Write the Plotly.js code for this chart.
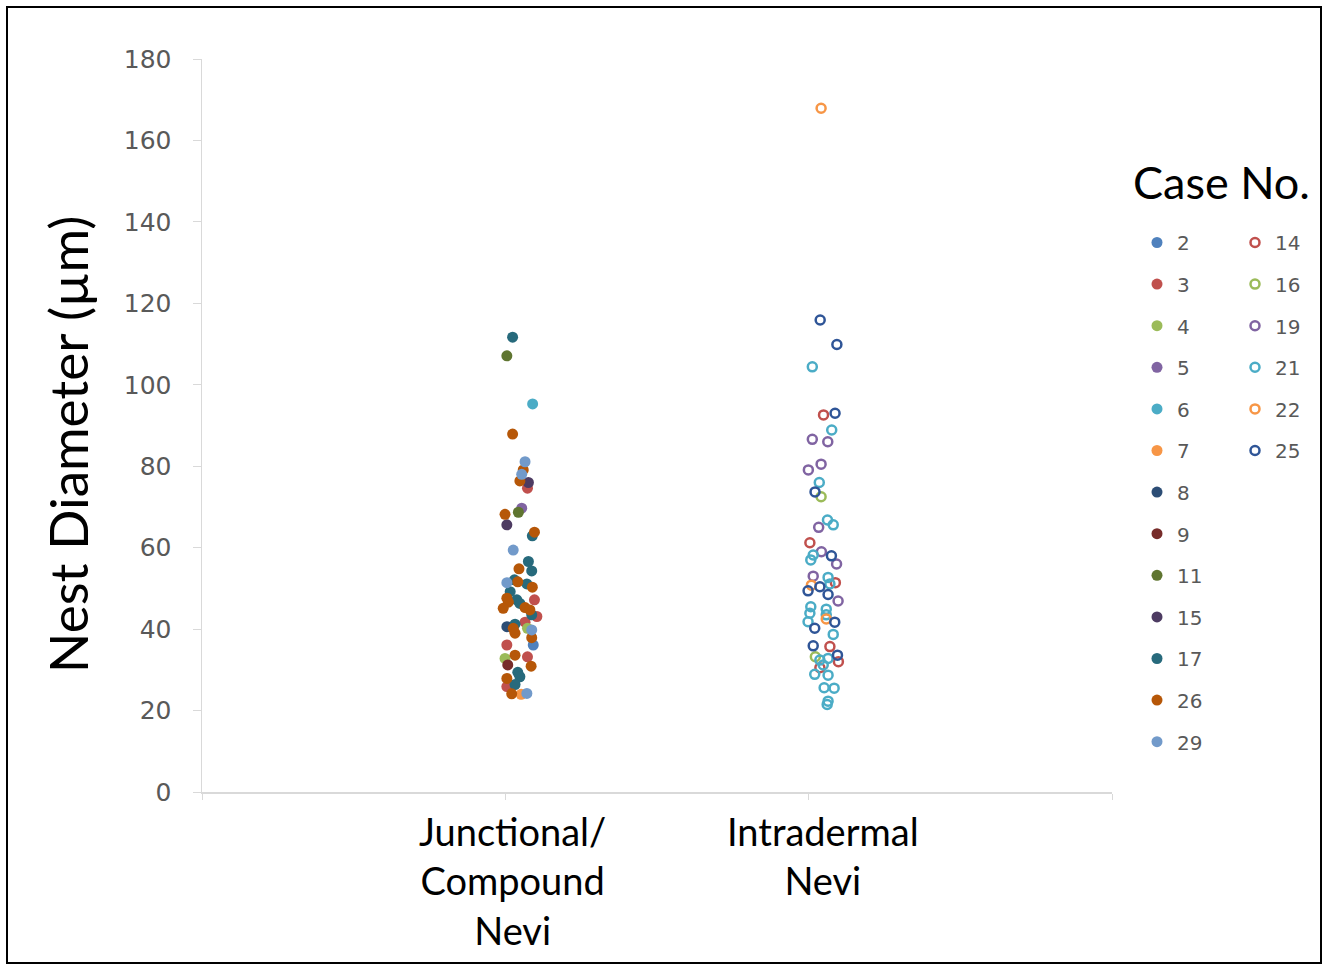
<!DOCTYPE html>
<html>
<head>
<meta charset="utf-8">
<script src="https://cdn.plot.ly/plotly-3.0.1.min.js"></script>
<style>
  html, body { margin: 0; padding: 0; background: #fff; }
  #chart { width: 1326px; height: 966px; }
</style>
</head>
<body>
<div id="chart"></div>
<script>
// ---- Data ----
const categories = ["Junctional/<br>Compound<br>Nevi", "Intradermal<br>Nevi"];
const categoryPositions = [1, 2];
const yTicks = [0, 20, 40, 60, 80, 100, 120, 140, 160, 180];
const yTitle = "Nest Diameter (µm)";
const legendTitle = "Case No.";

// Junctional/Compound Nevi (filled markers): x = category position + jitter, y = nest diameter (µm)
const case2_x  = [1.092];
const case2_y  = [36.1];
const case3_x  = [1.073, 1.096, 1.104, 1.065, 1.005, 1.073, 1.005];
const case3_y  = [74.6, 47.2, 43.1, 41.7, 36.1, 33.2, 25.9];
const case4_x  = [1.073, 0.999];
const case4_y  = [40.2, 32.8];
const case5_x  = [1.054];
const case5_y  = [69.7];
const case6_x  = [1.090];
const case6_y  = [95.3];
const case7_x  = [1.052];
const case7_y  = [24.0];
const case8_x  = [1.005];
const case8_y  = [40.6];
const case9_x  = [1.008];
const case9_y  = [31.2];
const case11_x = [1.005, 1.043];
const case11_y = [107.1, 68.7];
const case15_x = [1.076, 1.005];
const case15_y = [76.0, 65.6];
const case17_x = [1.024, 1.089, 1.076, 1.087, 1.030, 1.071, 1.016, 1.038, 1.048, 1.087, 1.032, 1.041, 1.048, 1.032];
const case17_y = [111.7, 62.9, 56.6, 54.3, 52.1, 51.1, 49.2, 47.2, 46.3, 43.5, 41.2, 29.4, 28.3, 26.4];
const case26_x = [1.024, 1.059, 1.048, 0.999, 1.096, 1.045, 1.041, 1.089, 1.005, 1.010, 0.993, 1.065, 1.081, 1.026, 1.032, 1.087, 1.032, 1.085, 1.005, 1.021];
const case26_y = [87.9, 79.1, 76.4, 68.2, 63.8, 54.8, 51.6, 50.3, 47.6, 46.6, 45.1, 45.3, 44.7, 40.2, 39.0, 37.9, 33.6, 30.9, 27.9, 24.1];
const case29_x = [1.065, 1.054, 1.026, 1.005, 1.087, 1.071];
const case29_y = [81.1, 78.0, 59.4, 51.4, 39.8, 24.2];

// Intradermal Nevi (open markers)
const case14_x = [2.049, 2.004, 2.088, 2.070, 2.098, 2.037];
const case14_y = [92.6, 61.2, 51.4, 35.7, 32.0, 30.5];
const case16_x = [2.041, 2.022];
const case16_y = [72.5, 33.2];
const case19_x = [2.012, 2.063, 2.041, 1.999, 2.033, 2.042, 2.092, 2.015, 2.097];
const case19_y = [86.6, 86.0, 80.5, 79.1, 65.0, 59.0, 56.0, 53.0, 46.9];
const case21_x = [2.012, 2.076, 2.035, 2.062, 2.081, 2.015, 2.007, 2.064, 2.070, 2.007, 2.058, 2.004, 2.058, 1.998, 2.081, 2.037, 2.064, 2.048, 2.020, 2.064, 2.051, 2.084, 2.064, 2.061];
const case21_y = [104.4, 88.9, 76.0, 66.8, 65.6, 58.2, 57.0, 52.7, 51.1, 45.5, 44.9, 43.9, 43.5, 41.8, 38.7, 32.4, 32.8, 31.2, 28.9, 28.7, 25.6, 25.5, 22.3, 21.5];
const case22_x = [2.041, 2.009, 2.058];
const case22_y = [167.9, 50.8, 42.5];
const case25_x = [2.038, 2.093, 2.087, 2.021, 2.075, 2.037, 1.998, 2.064, 2.086, 2.020, 2.015, 2.095];
const case25_y = [115.9, 109.9, 93.0, 73.7, 58.0, 50.4, 49.4, 48.5, 41.7, 40.2, 35.9, 33.6];

// ---- Series definitions (name, x, y, colour) ----
const filledSeries = [
  ["2",  case2_x,  case2_y,  "#4F81BD"],
  ["3",  case3_x,  case3_y,  "#C0504D"],
  ["4",  case4_x,  case4_y,  "#9BBB59"],
  ["5",  case5_x,  case5_y,  "#8064A2"],
  ["6",  case6_x,  case6_y,  "#4BACC6"],
  ["7",  case7_x,  case7_y,  "#F79646"],
  ["8",  case8_x,  case8_y,  "#2C4D75"],
  ["9",  case9_x,  case9_y,  "#772C2A"],
  ["11", case11_x, case11_y, "#5F7530"],
  ["15", case15_x, case15_y, "#4D3B62"],
  ["17", case17_x, case17_y, "#276A7C"],
  ["26", case26_x, case26_y, "#B65708"],
  ["29", case29_x, case29_y, "#729ACA"]
];
const openSeries = [
  ["14", case14_x, case14_y, "#C0504D"],
  ["16", case16_x, case16_y, "#9BBB59"],
  ["19", case19_x, case19_y, "#8064A2"],
  ["21", case21_x, case21_y, "#4BACC6"],
  ["22", case22_x, case22_y, "#F79646"],
  ["25", case25_x, case25_y, "#2F5597"]
];

const traces = [];
filledSeries.forEach(([name, x, y, color]) => {
  traces.push({
    type: "scatter", mode: "markers", name: name, x: x, y: y,
    legend: "legend", legendgroup: "g" + name,
    marker: { symbol: "circle", size: 11, color: color, line: { width: 0 } },
    hoverinfo: "name+y"
  });
});
openSeries.forEach(([name, x, y, color]) => {
  traces.push({
    type: "scatter", mode: "markers", name: name, x: x, y: y,
    legend: "legend2", legendgroup: "g" + name,
    marker: { symbol: "circle-open", size: 9, color: color, line: { width: 2.5, color: color } },
    hoverinfo: "name+y"
  });
});

// plot area in pixels: x 202..1112, y 59..792
const L = 202, R = 214, T = 59, B = 174, W = 1326, H = 966;
const pw = W - L - R, ph = H - T - B;
const px = v => (v - L) / pw;
const py = v => (H - B - v) / ph;

const labelFont = "Lato, 'Open Sans', sans-serif";
const annotations = categories.map((c, i) => ({
  text: c, xref: "x", yref: "paper",
  x: categoryPositions[i] + [0.023, 0.046][i], y: py(806),
  xanchor: "center", yanchor: "top", showarrow: false,
  font: { family: labelFont, size: 38, color: "#000000" }
}));
annotations.push({
  text: legendTitle, xref: "paper", yref: "paper",
  x: px(1131), y: py(182), xanchor: "left", yanchor: "middle", showarrow: false,
  font: { family: labelFont, size: 45, color: "#000000" }
});
annotations.push({
  text: yTitle, xref: "paper", yref: "paper", textangle: -90,
  x: px(68), y: py(445), xanchor: "center", yanchor: "middle", showarrow: false,
  font: { family: labelFont, size: 53, color: "#000000" }
});

const legendCommon = {
  yanchor: "top", xanchor: "left",
  font: { family: "'DejaVu Sans', sans-serif", size: 20, color: "#595959" },
  traceorder: "grouped", tracegroupgap: 12.6, itemwidth: 30,
  bgcolor: "rgba(0,0,0,0)", borderwidth: 0
};

const layout = {
  width: W, height: H,
  margin: { l: L, r: R, t: T, b: B },
  paper_bgcolor: "#ffffff", plot_bgcolor: "#ffffff",
  showlegend: true,
  xaxis: {
    range: [0, 3], tickvals: [0, 1, 2, 3], showticklabels: false,
    ticks: "outside", ticklen: 6, tickcolor: "#d9d9d9", tickwidth: 1,
    showline: true, linecolor: "#d9d9d9", linewidth: 1.5,
    showgrid: false, zeroline: false, fixedrange: true
  },
  yaxis: {
    range: [0, 180], tickvals: yTicks, ticktext: yTicks.map(String),
    ticks: "outside", ticklen: 8, tickcolor: "#d9d9d9", tickwidth: 1,
    ticklabelstandoff: 16,
    tickfont: { family: "'DejaVu Sans', sans-serif", size: 25, color: "#595959" },
    showline: true, linecolor: "#d9d9d9", linewidth: 1.5,
    showgrid: false, zeroline: false
  },
  legend: Object.assign({ x: px(1137), y: py(223) }, legendCommon),
  legend2: Object.assign({ x: px(1235), y: py(223) }, legendCommon),
  annotations: annotations,
  shapes: [{
    type: "rect", xref: "paper", yref: "paper",
    x0: px(7), x1: px(1321), y0: py(963), y1: py(7),
    line: { color: "#000000", width: 2 }, fillcolor: "rgba(0,0,0,0)", layer: "below"
  }]
};

Plotly.newPlot("chart", traces, layout, { staticPlot: true, displayModeBar: false });
</script>
</body>
</html>
